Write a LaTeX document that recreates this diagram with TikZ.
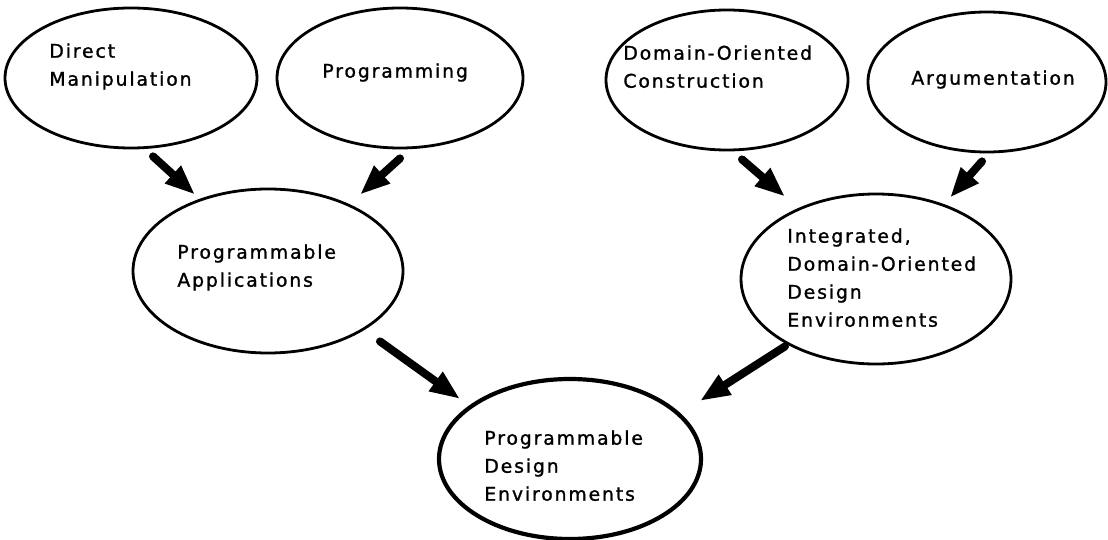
\documentclass[tikz,border=0pt]{standalone}
\usepackage{fontspec}
\usepackage{xcolor}
\usepackage{tikz}
\usetikzlibrary{arrows.meta,calc,shapes.geometric}
\newfontfamily\bubblefont[LetterSpace=10,FakeBold=1.3]{DejaVu Sans}
\tikzset{
  bubble/.style={draw, ellipse, line width=1.4pt, inner sep=0pt},
  % the goal at the bottom gets a heavier rim
  goal/.style={bubble, line width=2.1pt},
  txt/.style={anchor=north west, inner sep=0pt, align=left,
    font=\bubblefont\fontsize{9.4pt}{14pt}\selectfont},
  flow/.style={line width=4pt, line cap=round, -{Triangle[length=15pt,width=11pt]}}
}

\begin{document}
\begin{tikzpicture}[x=0.5pt, y=-0.5pt]
  \useasboundingbox (0,0) rectangle (1108,540);

  % top row
  \node[bubble, minimum width=126pt, minimum height=70pt] (dirm) at (131,78) {};
  \node[bubble, minimum width=123pt, minimum height=70pt] (prog) at (400,78) {};
  \node[bubble, minimum width=121pt, minimum height=70pt] (domc) at (727,80) {};
  \node[bubble, minimum width=119pt, minimum height=70pt] (argu) at (987,82) {};
  \node[txt] (dirm-t) at (49,43) {Direct\\Manipulation};
  \node[txt] (prog-t) at (322,63) {Programming};
  \node[txt] (domc-t) at (623,45) {Domain-Oriented\\Construction};
  \node[txt] (argu-t) at (911,70) {Argumentation};

  % middle row
  \node[bubble, minimum width=135pt, minimum height=82pt] (proga) at (268,271) {};
  \node[bubble, minimum width=135pt, minimum height=85pt] (intde) at (876,279) {};
  \node[txt] (proga-t) at (177,244) {Programmable\\Applications};
  \node[txt] (intde-t) at (787,228) {Integrated,\\Domain-Oriented\\Design\\Environments};

  % bottom
  \node[goal, minimum width=131pt, minimum height=80pt] (progde) at (570,459) {};
  \node[txt] (progde-t) at (484,430) {Programmable\\Design\\Environments};

  \draw[flow] ($(dirm.south)+(22,7)$) -- ($(proga.north)+(-73,7)$);
  \draw[flow] ($(prog.south)+(0,9)$) -- ($(proga.north)+(92,7)$);
  \draw[flow] ($(domc.south)+(15,8)$) -- ($(intde.north)+(-91,4)$);
  \draw[flow] ($(argu.south)+(-5,8)$) -- ($(intde.north)+(74,5)$);
  \draw[flow] ($(proga.south)+(112,-13)$) -- ($(progde.north)+(-110,22)$);
  \draw[flow] ($(intde.south)+(-91,-19)$) -- ($(progde.north)+(130,24)$);
\end{tikzpicture}
\end{document}
